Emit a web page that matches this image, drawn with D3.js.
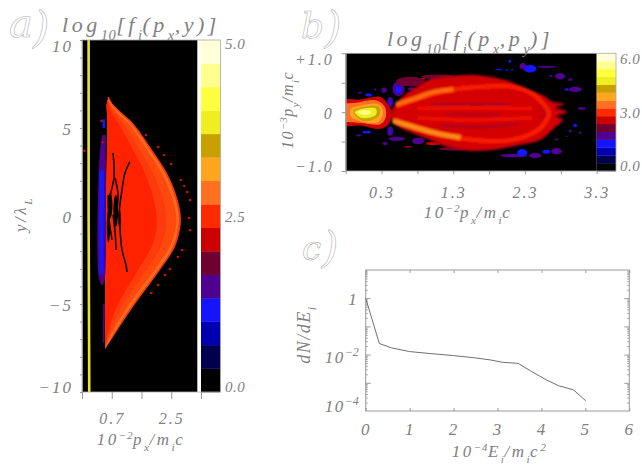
<!DOCTYPE html>
<html>
<head>
<meta charset="utf-8">
<script src="https://cdn.jsdelivr.net/npm/d3@7"></script>
<style>
html, body { margin: 0; padding: 0; background: #fff; }
svg { display: block; }
text { font-family: "Liberation Serif", serif; font-style: italic; fill: #808080; }
.axis path, .axis line { stroke: #999; }
.axis text { font-size: 16px; letter-spacing: 2px; font-family: "Liberation Serif", serif; fill: #808080; }
.big { fill: #fff; stroke: #b4b4b4; stroke-width: 0.6; }
</style>
</head>
<body>
<svg id="chart" width="642" height="466"></svg>
<script>
// colour table shared by both maps, bottom to top of the bar
var levelColors = ['#000000', '#00004f', '#0000b0', '#1414ff', '#500090', '#700030', '#cc0000', '#ff2a00',
                   '#ff7020', '#ffa520', '#c8a000', '#eeee20', '#ffff40', '#ffff90', '#ffffd8'];

// panel a: p_x (10^-2 m_i c) against y (lambda_L)
var aY     = [6.76, 6.42, 5.85, 5.28, 3.92, 2.44, 1.08, -0.06, -0.8, -1.76, -3.07, -5.17, -6.87, -7.55];
var aLeft  = [.617, .556, .556, .556, .556, .55, .54, .526, .52, .52, .51, .5, .5, .5];
var aOuter = [.617, .71, 1.01, 1.34, 1.86, 2.37, 2.67, 2.79, 2.76, 2.61, 2.16, 1.34, .74, .5];
var aRidge = [.6, .67, .95, 1.28, 1.80, 2.31, 2.61, 2.73, 2.70, 2.55, 2.10, 1.28, .70, .5];
var aInner = [.58, .63, .87, 1.19, 1.71, 2.21, 2.52, 2.65, 2.62, 2.45, 1.99, 1.17, .64, .5];
var aMid   = [.58, .61, .78, 1.05, 1.5, 1.95, 2.24, 2.35, 2.33, 2.18, 1.75, 1.0, .6, .5];
var aCore  = [.58, .6, .7, .9, 1.3, 1.7, 1.95, 2.05, 2.05, 1.9, 1.5, .85, .56, .5];
var aBeam  = [[0, 10], [0, 0], [0.02, -10]];
var aStreaks = [
    [[.74, 3.58], [.77, 2.22], [.65, 1.08], [.59, -.23]],
    [[1.25, 3.07], [1.10, 2.44], [1.01, 1.48], [.92, .06], [.95, -.68]],
    [[.80, 2.16], [.89, 1.19], [.83, .06]],
    [[.74, .06], [.80, -.91], [.83, -1.93]],
    [[.95, -.68], [1.01, -1.93], [1.13, -2.78], [1.16, -3.18]],
    [[.59, 1.19], [.62, -.23], [.71, -1.36]]
];
// black gaps in the middle of the body: x, y, rx, ry
var aGaps = [[.65, .6, .07, .7], [.82, .3, .07, .9], [.6, -.6, .05, .9], [.94, -.2, .035, .6]];
// purple and blue strip left of the main body: y, left, right
var aStrip = [
    [[4.6, .42, .52], [4.0, .37, .52], [2.6, .31, .52], [-3.4, .3, .5], [-3.9, .38, .44]],
    [[2.6, .33, .47], [-3.3, .33, .45]],
    [[-5.0, .44, .49], [-7.2, .43, .47]],
    [[5.5, .42, .5], [5.0, .42, .5]]
];
var aStripValues = [1.5, 1.17, 1.5, 1.17];
var aDots = [[1.74, 4.6], [2.1, 3.92], [2.28, 3.46], [2.49, 2.95], [2.79, 2.04], [2.89, 1.7], [2.98, 1.36], [3.07, .91],
             [3.04, -.11], [3.07, -.8], [2.83, -1.93], [2.70, -2.33], [2.46, -3.01], [2.31, -3.35], [2.10, -3.92],
             [1.89, -4.37], [-.13, 3.71], [.39, 5.4], [.42, 4.2]];

// panel b: p_x (10^-2 m_i c) against p_y (10^-3 m_i c)
var bBody = [[.44, 0], [.56, .215], [.74, .385], [.98, .555], [1.30, .61], [1.67, .62], [2.05, .53], [2.33, .385],
             [2.56, .27], [2.68, .17], [2.84, .14], [2.72, .08], [2.88, 0], [2.72, -.07], [2.82, -.13], [2.70, -.27],
             [2.51, -.465], [2.23, -.55], [1.86, -.635], [1.53, -.65], [1.21, -.58], [.98, -.465], [.74, -.35], [.51, -.225], [.44, -.125]];
var bBullets = [
    [[-.3, .187], [0, .215], [.28, .26], [.37, .16], [.44, 0], [.395, -.21], [.28, -.283], [0, -.227], [-.3, -.21]],
    [[-.3, .11], [-.05, .16], [.23, .2], [.34, .1], [.36, -.068], [.29, -.2], [0, -.18], [-.3, -.12]],
    [[-.13, .05], [0, .11], [.26, .13], [.32, -.01], [.25, -.17], [0, -.15], [-.13, -.07]],
    [[-.09, .02], [.05, .09], [.26, .09], [.27, -.05], [.15, -.14], [0, -.13]],
    [[-.07, 0], [.05, .06], [.22, .06], [.22, -.05], [.03, -.1]],
    [[-.03, .0], [.08, .035], [.16, .0], [.07, -.05]]
];
var bBulletValues = [2.6, 3.4, 3.8, 4.2, 4.6, 5.4];
var bRing = [[.51, .1], [.84, .245], [1.21, .36], [1.67, .43], [2.14, .43], [2.42, .3], [2.58, .1], [2.63, -.01], [2.56, -.21],
             [2.37, -.38], [2.0, -.49], [1.53, -.465], [1.16, -.38], [.84, -.27], [.49, -.15]];
var bRidgeUpper = [[.5, .13], [.74, .22], [1.02, .34], [1.3, .39]];
var bRidgeLower = [[.46, -.15], [.74, -.25], [1.07, -.36], [1.4, -.43]];
var bStreaksDark = [[[1.2, -.04], [1.55, -.05], [1.95, -.04]], [[1.0, .12], [1.6, .14], [2.1, .13]], [[1.1, -.22], [1.7, -.25], [2.2, -.2]], [[2.5, .1], [2.6, 0], [2.5, -.1]]];
var bStreaksBright = [[[.8, .06], [1.5, .07], [2.4, .06]], [[.8, -.1], [1.5, -.13], [2.4, -.1]]];
// x, y, rx, ry, value
var bBlobs = [
    [.535, .397, .084, .125, 1.8], [.535, .38, .045, .06, 1.4], [.42, .17, .042, .09, 1.8], [.42, .17, .02, .05, 1.4],
    [.12, .295, .047, .028, 1.4], [.0, .33, .03, .017, 1.8], [.335, .374, .037, .045, 1.8], [.21, .385, .015, .015, 1.8],
    [.72, .397, .056, .028, 1.8], [.88, .567, .03, .012, 2.6], [.83, .5, .03, .012, 2.6],
    [.7, .52, .2, .08, 2.2], [1.1, .6, .25, .04, 2.2],
    [.42, -.323, .042, .08, 1.8], [.42, -.32, .018, .04, 1.4], [.093, -.34, .056, .023, 1.4], [-.02, -.397, .037, .017, 1.8],
    [.51, -.453, .116, .034, 1.8], [.81, -.49, .084, .057, 1.8], [.35, -.533, .033, .028, 1.8],
    [1.02, -.533, .1, .028, 2.6], [.67, -.59, .056, .017, 2.2], [1.3, -.62, .2, .03, 2.2],
    [2.37, .737, .09, .065, 1.4], [2.27, .78, .045, .055, 1.8], [2.60, .77, .14, .017, 1.8], [1.93, .725, .05, .012, 1.4],
    [2.09, .867, .018, .028, 1.4], [2.05, .71, .014, .017, 1.4], [2.12, .72, .014, .017, 1.4],
    [2.79, .61, .07, .055, 1.8], [2.93, .555, .028, .023, 1.8], [3.0, .385, .09, .045, 1.8], [2.88, .385, .028, .023, 1.4],
    [3.09, .06, .056, .023, 1.8], [2.66, .62, .028, .017, 1.8],
    [3.0, -.226, .028, .028, 1.4], [2.93, -.32, .023, .023, 1.8], [3.07, -.35, .023, .017, 1.8], [2.74, -.465, .023, .017, 1.8], [2.88, -.41, .014, .014, 1.8],
    [2.14, -.737, .186, .028, 1.8], [2.44, -.737, .084, .045, 1.8], [2.26, -.69, .07, .065, 1.4], [2.6, -.674, .056, .034, 1.4], [2.74, -.663, .074, .055, 1.8]
];

// panel c: ion energy spectrum
var energy = [0, .31, .59, 1.0, 1.46, 2.0, 2.45, 2.83, 3.13, 3.47, 3.78, 4.12, 4.39, 4.73, 5.01];
var dNdE   = [1, .0247, .0173, .0128, .0109, .0092, .0078, .0065, .0053, .0049, .0025, .00125, .00079, .00056, .00023];

var aXTicks = [-.2, .7, 1.6, 2.5, 3.4];
var aXLabels = ['0.7', '2.5'];
var aYTicks = [10, 5, 0, -5, -10];
var bXTicks = [-.2, .3, .8, 1.3, 1.8, 2.3, 2.8, 3.3];
var bXLabels = ['0.3', '1.3', '2.3', '3.3'];
var bYTicks = [1, .5, 0, -.5, -1];

var svg = d3.select('#chart');
var defs = svg.append('defs');
defs.append('filter').attr('id', 'softA').append('feGaussianBlur').attr('stdDeviation', 0.45);
defs.append('filter').attr('id', 'softB').append('feGaussianBlur').attr('stdDeviation', 0.7);
defs.append('filter').attr('id', 'softBody').append('feGaussianBlur').attr('stdDeviation', 1.3);

function addClip(id, x, y, w, h) {
    defs.append('clipPath').attr('id', id).append('rect')
        .attr('x', x).attr('y', y).attr('width', w).attr('height', h);
}

// text with sub and superscripts, parts are [string, shift] where shift is -1 sub, 1 sup
function mathText(g, x, y, size, parts, rotate, spacing) {
    var t = g.append('text').attr('text-anchor', 'middle').style('letter-spacing', (spacing || 2.5) + 'px');
    if (rotate)
        t.attr('transform', 'translate(' + x + ',' + y + ') rotate(-90)');
    else
        t.attr('x', x).attr('y', y);
    var last = 0;
    parts.forEach(function (p) {
        var shift = p[1] || 0;
        var dy = (last - shift) * size * 0.35;
        t.append('tspan').text(p[0])
            .attr('dy', dy)
            .style('font-size', (shift ? size * 0.66 : size) + 'px')
            .style('letter-spacing', (shift ? 0.5 : (spacing || 2.5)) + 'px');
        last = shift;
    });
    return t;
}

function bigLetter(g, s, x, y, size, px, py, psize) {
    g.append('text').attr('class', 'big').attr('x', x).attr('y', y).style('font-size', size + 'px')
        .style('font-family', '"DejaVu Serif", serif').text(s);
    g.append('text').attr('class', 'big').attr('x', px).attr('y', py).style('font-size', psize + 'px')
        .style('font-family', '"DejaVu Serif", serif').text(')');
}

function colorBar(g, x0, x1, y0, y1) {
    var band = d3.scaleBand().domain(d3.range(levelColors.length)).range([y1, y0]);
    g.selectAll('rect.level').data(levelColors).enter().append('rect')
        .attr('class', 'level')
        .attr('x', x0).attr('width', x1 - x0)
        .attr('y', function (d, i) { return band(i); })
        .attr('height', band.bandwidth() + 0.3)
        .attr('fill', function (d) { return d; });
}

function barLabels(g, x, labels) {
    g.selectAll('text.barlabel').data(labels).enter().append('text')
        .attr('class', 'barlabel')
        .attr('x', x).attr('y', function (d) { return d[1]; })
        .style('font-size', '15px').style('letter-spacing', '0.5px')
        .text(function (d) { return d[0]; });
}

function fmtTick(v) {
    return d3.format('.1f')(v);
}

/* panel a */
function drawA() {
    var left = 82, right = 197.3, barL = 201, barR = 220.5, top = 40, bottom = 392;
    var x = d3.scaleLinear().domain([-.2, 3.4]).range([left, barL]);
    var y = d3.scaleLinear().domain([-10, 10]).range([bottom, top]);
    var heat = d3.scaleQuantize().domain([0, 5]).range(levelColors);
    var g = svg.append('g');

    addClip('clipA', left, top, right - left, bottom - top);
    g.append('rect').attr('x', left).attr('y', top).attr('width', right - left).attr('height', bottom - top).attr('fill', '#000');

    var map = g.append('g').attr('clip-path', 'url(#clipA)').append('g').attr('filter', 'url(#softA)');
    var line = d3.line().x(function (d) { return x(d[0]); }).y(function (d) { return y(d[1]); });

    function band(right, fill) {
        var area = d3.area().curve(d3.curveCatmullRom)
            .y(function (d) { return y(d); })
            .x0(function (d, i) { return x(aLeft[i]); })
            .x1(function (d, i) { return x(right[i]); });
        map.append('path').attr('d', area(aY)).attr('fill', fill);
    }
    band(aOuter, '#f53a08');
    band(aRidge, '#ff6a20');
    band(aInner, '#ff4a10');
    band(aMid, '#ff3a08');
    band(aCore, '#ff2400');

    aStrip.forEach(function (s, i) {
        var area = d3.area().curve(d3.curveCatmullRom)
            .y(function (d) { return y(d[0]); })
            .x0(function (d) { return x(d[1]); })
            .x1(function (d) { return x(d[2]); });
        map.append('path').attr('d', area(s)).attr('fill', heat(aStripValues[i]));
    });

    map.selectAll('ellipse.gap').data(aGaps).enter().append('ellipse')
        .attr('class', 'gap')
        .attr('cx', function (d) { return x(d[0]); })
        .attr('cy', function (d) { return y(d[1]); })
        .attr('rx', function (d) { return x(d[2]) - x(0); })
        .attr('ry', function (d) { return y(0) - y(d[3]); })
        .attr('fill', '#000');

    map.selectAll('path.streak').data(aStreaks).enter().append('path')
        .attr('class', 'streak')
        .attr('d', function (d) { return line.curve(d3.curveCatmullRom)(d); })
        .attr('fill', 'none').attr('stroke', '#000').attr('stroke-width', 1.5);

    map.selectAll('circle.dot').data(aDots).enter().append('circle')
        .attr('class', 'dot')
        .attr('cx', function (d) { return x(d[0]); })
        .attr('cy', function (d) { return y(d[1]); })
        .attr('r', 1.2)
        .attr('fill', '#dd0a00');

    map.append('path').attr('d', line.curve(d3.curveLinear)(aBeam))
        .attr('fill', 'none').attr('stroke', '#e8e428').attr('stroke-width', 2.6);

    colorBar(g, barL, barR, top, bottom);
    g.append('rect').attr('x', left).attr('y', top).attr('width', barR - left).attr('height', bottom - top)
        .attr('fill', 'none').attr('stroke', '#aaa').attr('stroke-width', 0.8);

    var xAxis = d3.axisBottom(x).tickValues(aXTicks).tickSize(7).tickSizeOuter(0)
        .tickFormat(function (v) { return aXLabels.indexOf(fmtTick(v)) >= 0 ? fmtTick(v) : ''; });
    var gx = g.append('g').attr('class', 'axis').attr('transform', 'translate(0,' + bottom + ')').call(xAxis);
    gx.select('.domain').remove();
    gx.selectAll('text').attr('dy', null).attr('y', 32).style('font-style', 'italic').style('font-size', '16px');

    var yMinor = d3.axisLeft(y).tickValues(d3.range(-10, 11)).tickSize(2).tickFormat('').tickSizeOuter(0);
    var gm = g.append('g').attr('class', 'axis').attr('transform', 'translate(' + left + ',0)').call(yMinor);
    gm.select('.domain').remove();

    var yAxis = d3.axisLeft(y).tickValues(aYTicks).tickSize(2).tickPadding(7).tickSizeOuter(0)
        .tickFormat(function (v) { return v < 0 ? '\u2212' + (-v) : '' + v; });
    var gy = g.append('g').attr('class', 'axis').attr('transform', 'translate(' + left + ',0)').call(yAxis);
    gy.selectAll('text').style('font-style', 'italic').style('font-size', '17px')
        .attr('dy', function (v) { return v === 10 ? '11' : v === -10 ? '0' : '6.5'; });

    barLabels(g, 225, [['5.0', 49], ['2.5', 222], ['0.0', 392]]);

    mathText(g, 141, 32, 22, [['log'], ['10', -1], ['[f'], ['i', -1], ['(p'], ['x', -1], [',y)]']], false, 3.5);
    mathText(g, 141, 445, 17, [['10'], ['\u22122', 1], ['p'], ['x', -1], ['/m'], ['i', -1], ['c']]);
    mathText(g, 26, 215, 17, [['y/\u03bb'], ['L', -1]], true);
    bigLetter(g, 'a', 9, 37, 40, 33, 42, 42);
}

/* panel b */
function drawB() {
    var left = 345.7, right = 596.7, barR = 616, top = 53.3, bottom = 171;
    var x = d3.scaleLinear().domain([-.2, 3.3]).range([left, right]);
    var y = d3.scaleLinear().domain([-1, 1]).range([bottom, top]);
    var heat = d3.scaleQuantize().domain([0, 6]).range(levelColors);
    var g = svg.append('g');

    addClip('clipB', left, top, right - left, bottom - top);
    g.append('rect').attr('x', left).attr('y', top).attr('width', right - left).attr('height', bottom - top).attr('fill', '#000');

    var clip = g.append('g').attr('clip-path', 'url(#clipB)');
    var blobs = clip.append('g').attr('filter', 'url(#softB)');
    var body = clip.append('g').attr('filter', 'url(#softBody)');
    var nose = clip.append('g').attr('filter', 'url(#softB)');
    var closed = d3.line().curve(d3.curveCatmullRomClosed).x(function (d) { return x(d[0]); }).y(function (d) { return y(d[1]); });
    var open = d3.line().curve(d3.curveCatmullRom).x(function (d) { return x(d[0]); }).y(function (d) { return y(d[1]); });
    var sx = x(1) - x(0), sy = y(0) - y(1);

    blobs.selectAll('ellipse.blob').data(bBlobs).enter().append('ellipse')
        .attr('class', 'blob')
        .attr('cx', function (d) { return x(d[0]); })
        .attr('cy', function (d) { return y(d[1]); })
        .attr('rx', function (d) { return d[2] * sx; })
        .attr('ry', function (d) { return d[3] * sy; })
        .attr('fill', function (d) { return heat(d[4]); });

    body.append('path').attr('d', closed(bBody)).attr('fill', '#d40006')
        .attr('stroke', '#9a0018').attr('stroke-width', 1.5);

    function stroke(pts, color, w, o) {
        body.append('path').attr('d', open(pts)).attr('fill', 'none')
            .attr('stroke', color).attr('stroke-width', w).attr('stroke-opacity', o || 1);
    }
    bStreaksBright.forEach(function (s) { stroke(s, '#ec0c00', 4); });
    bStreaksDark.forEach(function (s) { stroke(s, '#8a0a30', 1.6, 0.8); });
    stroke(bRing, '#f81e00', 4.5);
    stroke(bRidgeUpper, '#ff6a10', 4.5);
    stroke(bRidgeLower, '#ff8a18', 5);

    nose.selectAll('path.bullet').data(bBullets).enter().append('path')
        .attr('class', 'bullet')
        .attr('d', closed)
        .attr('fill', function (d, i) { return heat(bBulletValues[i]); });

    colorBar(g, right, barR, top, bottom);
    g.append('rect').attr('x', left).attr('y', top).attr('width', barR - left).attr('height', bottom - top)
        .attr('fill', 'none').attr('stroke', '#aaa').attr('stroke-width', 0.8);

    var xAxis = d3.axisBottom(x).tickValues(bXTicks).tickSize(3).tickSizeOuter(0)
        .tickFormat(function (v) { return bXLabels.indexOf(fmtTick(v)) >= 0 ? fmtTick(v) : ''; });
    var gx = g.append('g').attr('class', 'axis').attr('transform', 'translate(0,' + bottom + ')').call(xAxis);
    gx.select('.domain').remove();
    gx.selectAll('text').attr('dy', null).attr('y', 27).style('font-style', 'italic').style('font-size', '16px');

    var yAxis = d3.axisLeft(y).tickValues(bYTicks).tickSize(4).tickPadding(8).tickSizeOuter(0)
        .tickFormat(function (v) {
            if (v === 1) return '+1.0';
            if (v === -1) return '\u22121.0';
            return v === 0 ? '0' : '';
        });
    var gy = g.append('g').attr('class', 'axis').attr('transform', 'translate(' + left + ',0)').call(yAxis);
    gy.selectAll('text').style('font-style', 'italic').style('font-size', '16px')
        .attr('dy', function (v) { return v === 1 ? '11' : v === -1 ? '0' : '6'; });

    barLabels(g, 620, [['6.0', 64], ['3.0', 118], ['0.0', 171]]);

    mathText(g, 470, 46, 22, [['log'], ['10', -1], ['[f'], ['i', -1], ['(p'], ['x', -1], [',p'], ['y', -1], [')]']], false, 3.5);
    mathText(g, 468, 218, 17, [['10'], ['\u22122', 1], ['p'], ['x', -1], ['/m'], ['i', -1], ['c']]);
    mathText(g, 293, 110, 16, [['10'], ['\u22123', 1], ['p'], ['y', -1], ['/m'], ['i', -1], ['c']], true, 1.5);
    bigLetter(g, 'b', 301, 38, 36, 325, 42, 42);
}

/* panel c */
function drawC() {
    var left = 365.7, right = 629.3, top = 270, bottom = 411;
    var x = d3.scaleLinear().domain([0, 6]).range([left, right]);
    var y = d3.scaleLog().domain([1e-4, 10]).range([bottom, top]);
    var g = svg.append('g');

    var minor = [];
    [1e-4, 1e-3, 1e-2, 1e-1, 1].forEach(function (d) {
        d3.range(2, 10).forEach(function (m) { minor.push(d * m); });
    });
    var major = [1e-3, 1e-2, 1e-1, 1];
    function sideTicks(gen, vals, size, pos) {
        var s = g.append('g').attr('class', 'axis').attr('transform', 'translate(' + pos + ',0)')
            .call(gen(y).tickValues(vals).tickSize(size).tickFormat(''));
        s.select('.domain').remove();
    }
    sideTicks(d3.axisRight, minor, 2, left);
    sideTicks(d3.axisLeft, minor, 2, right);
    sideTicks(d3.axisRight, major, 5, left);
    sideTicks(d3.axisLeft, major, 5, right);

    var gx = g.append('g').attr('class', 'axis').attr('transform', 'translate(0,' + bottom + ')')
        .call(d3.axisBottom(x).tickValues(d3.range(0, 7)).tickSize(-3).tickSizeOuter(0).tickFormat(d3.format('d')));
    gx.select('.domain').remove();
    gx.selectAll('text').attr('dy', null).attr('y', 24).style('font-style', 'italic').style('font-size', '17px');

    var gt = g.append('g').attr('class', 'axis').attr('transform', 'translate(0,' + top + ')')
        .call(d3.axisTop(x).tickValues(d3.range(0, 7)).tickSize(-3).tickSizeOuter(0).tickFormat(''));
    gt.select('.domain').remove();

    g.append('rect').attr('x', left).attr('y', top).attr('width', right - left).attr('height', bottom - top)
        .attr('fill', 'none').attr('stroke', '#999').attr('stroke-width', 1);

    var line = d3.line()
        .x(function (d, i) { return x(energy[i]); })
        .y(function (d) { return y(d); });
    g.append('path').attr('d', line(dNdE)).attr('fill', 'none').attr('stroke', '#707070').attr('stroke-width', 1);

    // decade labels, drawn by hand for the raised exponent
    g.selectAll('text.one').data([1]).enter().append('text').attr('class', 'one')
        .attr('text-anchor', 'end').attr('x', left - 9).attr('y', function (d) { return y(d) + 7; })
        .style('font-size', '17px').text('1');
    [[2, 1e-2, 8], [4, 1e-4, 1]].forEach(function (d) {
        var t = g.append('text').attr('x', left - 41).attr('y', y(d[1]) + d[2]);
        t.append('tspan').text('10').style('font-size', '17px').style('letter-spacing', '1.5px');
        t.append('tspan').text('\u2212' + d[0]).attr('dy', -7).style('font-size', '12px');
    });

    mathText(g, 499, 457, 17, [['10'], ['\u22124', 1], ['E'], ['i', -1], ['/m'], ['i', -1], ['c'], ['2', 1]]);
    mathText(g, 310, 335, 18, [['dN/dE'], ['i', -1]], true, 1.5);
    bigLetter(g, 'c', 302, 260, 34, 322, 262, 42);
}

drawA();
drawB();
drawC();
</script>
</body>
</html>
